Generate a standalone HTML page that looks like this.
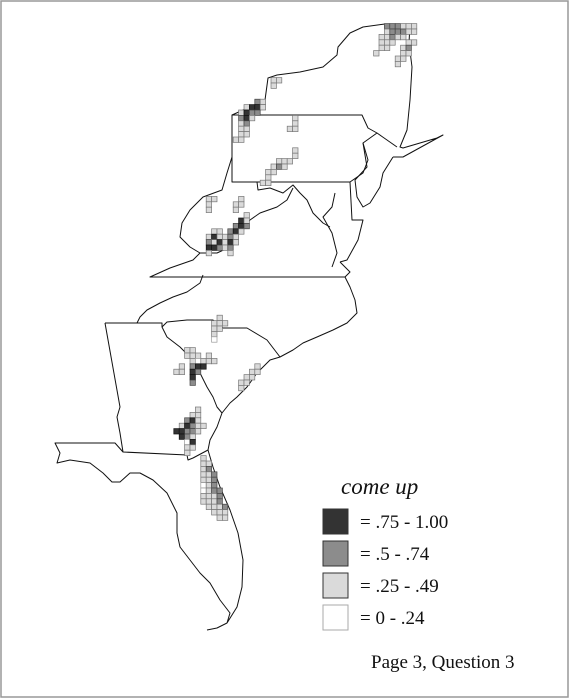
<!DOCTYPE html>
<html><head><meta charset="utf-8"><style>
html,body{margin:0;padding:0;background:#fff}
svg{display:block}
text{font-family:"Liberation Serif",serif;fill:#111}
</style></head><body>
<svg id="map" width="570" height="699" viewBox="0 0 570 699">
<rect x="1" y="1" width="567" height="696" fill="#fff" stroke="#999" stroke-width="1.5"/>
<g id="outlines" fill="none" stroke="#111" stroke-width="1" stroke-linejoin="round">
<path d="M232,115 L250,107 L265,100 L268,78 L277,75 L300,72 L323,67 L337,55 L338,47 L350,33 L363,27 L385,24 L410,24 L409,43 L412,67 L410,100 L407,130 L400,147 L403,148 L437,138 L443,135 L403,157 L393,157"/>
<path d="M232,115 L362,115 L368,128 L377,133 L363,143 L368,160 L363,173 L350,182 L232,182 Z"/>
<path d="M377,133 L397,147"/>
<path d="M393,157 L383,173 L380,187 L370,203 L363,207 L357,197 L355,180 L367,167 L363,143"/>
<path d="M350,182 L352,220 L363,220 L358,240 L347,260 L340,262"/>
<path d="M335,193 L332,207 L323,217 L332,233 L337,253 L332,267"/>
<path d="M232,157 L227,173 L222,190 L203,197 L190,210 L182,223 L180,237 L190,247 L200,253 L217,253 L230,247 L233,240 L240,233 L250,220 L260,213 L277,207 L287,200 L293,188"/>
<path d="M257,182 L258,190 L270,188 L283,193 L293,185 L300,193 L307,200 L313,213 L323,223 L330,227"/>
<path d="M200,253 L193,260 L170,268 L150,277 L345,277 L350,272 L340,262"/>
<path d="M203,275 L200,283 L187,292 L173,297 L160,303 L147,310 L140,317 L137,323 M345,277 L350,287 L355,300 L357,313 L347,323 L333,330 L317,337 L303,343 L293,350 L280,357 L267,340 L247,328 L223,328 L213,320 L187,320 L167,322 L162,327"/>
<path d="M105,323 L162,323 L162,327 L167,337 L180,347 L193,360 L200,373 L207,387 L213,397 L217,407 L222,413 M105,323 L120,407 L117,417 L120,433 L123,452 L187,455 L188,460 L193,458 L208,450"/>
<path d="M280,357 L270,360 L257,373 L247,387 L237,397 L230,403 L222,413 L217,427 L210,440 L208,450"/>
<path d="M123,452 L115,443 L55,443 L60,453 L57,463 L70,460 L90,463 L103,473 L112,482 L120,482 L130,473 L140,473 L153,480 L167,493 L177,513 L177,533 L180,547 L190,560 L200,573 L210,583 L220,600 L230,613 L227,623 L217,628 L207,630 M208,450 L213,467 L220,487 L230,510 L238,533 L243,560 L242,587 L237,607 L227,623"/>
</g>
<g id="cells"></g>
<text x="341" y="494" font-size="23" font-style="italic">come up</text>
<g id="legend"></g>
<text x="371" y="668" font-size="19">Page 3, Question 3</text>
</svg>
<script>
// grid rows: [row, startCol, levels string] level 1=0-.24, 2=.25-.49, 3=.5-.74, 4=.75-1.00
const cellRows = [
 [4,71,"333222"],[5,71,"233322"],[6,70,"22322"],[7,70,"222"],[7,75,"22"],[8,70,"22"],[8,74,"23"],[9,69,"2"],[9,74,"22"],[10,73,"22"],[11,73,"2"],
 [14,50,"22"],[15,50,"2"],
 [18,47,"32"],[19,45,"2442"],[20,44,"2433"],[21,44,"342"],[22,44,"23"],[23,44,"22"],[24,44,"22"],[25,43,"22"],
 [21,54,"2"],[22,54,"2"],[23,53,"22"],[27,54,"2"],[28,54,"2"],
 [29,51,"222"],[30,50,"232"],[31,49,"22"],[32,49,"2"],[33,48,"22"],
 [36,38,"22"],[37,38,"2"],[38,38,"2"],[36,44,"2"],[37,43,"22"],[38,43,"2"],
 [39,45,"2"],[40,44,"42"],[41,43,"343"],[42,39,"22"],[42,42,"342"],[43,38,"242232"],[44,38,"324242"],[45,38,"44323"],[46,38,"2"],[46,42,"2"],
 [58,40,"2"],[59,39,"222"],[60,39,"22"],[61,39,"2"],[62,39,"1"],
 [64,34,"22"],[65,34,"222"],[65,38,"2"],[66,35,"21222"],[67,33,"2"],[67,35,"344"],[68,32,"22"],[68,35,"43"],[69,35,"4"],[70,35,"3"],
 [67,47,"2"],[68,46,"22"],[69,45,"22"],[70,44,"22"],[71,44,"2"],
 [75,36,"2"],[76,35,"22"],[77,34,"342"],[78,33,"24322"],[79,32,"44332"],[80,33,"432"],[81,34,"14"],[82,34,"22"],[83,34,"2"],
 [84,37,"2"],[85,37,"22"],[86,37,"23"],[87,37,"223"],[88,37,"223"],[89,37,"123"],[90,37,"1233"],[91,37,"2223"],[92,37,"2223"],[93,38,"2223"],[94,39,"222"],[95,40,"22"]
];
const legendLabels = ["=  .75 - 1.00","=  .5 - .74","=  .25 - .49","=   0 - .24"];
const legendLevels = [4,3,2,1];

const NS="http://www.w3.org/2000/svg";
const S=5.4, OX=1, OY=2;
const fills={1:"#ffffff",2:"#dadada",3:"#8c8c8c",4:"#333333"};
const strokes={1:"#999",2:"#777",3:"#444",4:"#111"};
function xs(c){return OX+c*S;}
function ys(r){return OY+r*S;}
const cg=document.getElementById('cells');
cellRows.forEach(([r,c0,lv])=>{
  [...lv].forEach((ch,i)=>{
    const l=+ch;
    const el=document.createElementNS(NS,'rect');
    el.setAttribute('x',xs(c0+i));el.setAttribute('y',ys(r));
    el.setAttribute('width',S);el.setAttribute('height',S);
    el.setAttribute('fill',fills[l]);el.setAttribute('stroke',strokes[l]);el.setAttribute('stroke-width','0.7');
    
    
    cg.appendChild(el);
  });
});
const lg=document.getElementById('legend');
legendLevels.forEach((l,i)=>{
  const y=509+i*32;
  const r=document.createElementNS(NS,'rect');
  r.setAttribute('x',323);r.setAttribute('y',y);r.setAttribute('width',25);r.setAttribute('height',25);
  r.setAttribute('fill',fills[l]);r.setAttribute('stroke',l===1?"#aaa":"#333");
  
  
  lg.appendChild(r);
  const t=document.createElementNS(NS,'text');
  t.setAttribute('x',360);t.setAttribute('y',y+19);t.setAttribute('font-size','19');
  t.textContent=legendLabels[i];
  
  
  lg.appendChild(t);
});
</script>
</body></html>
